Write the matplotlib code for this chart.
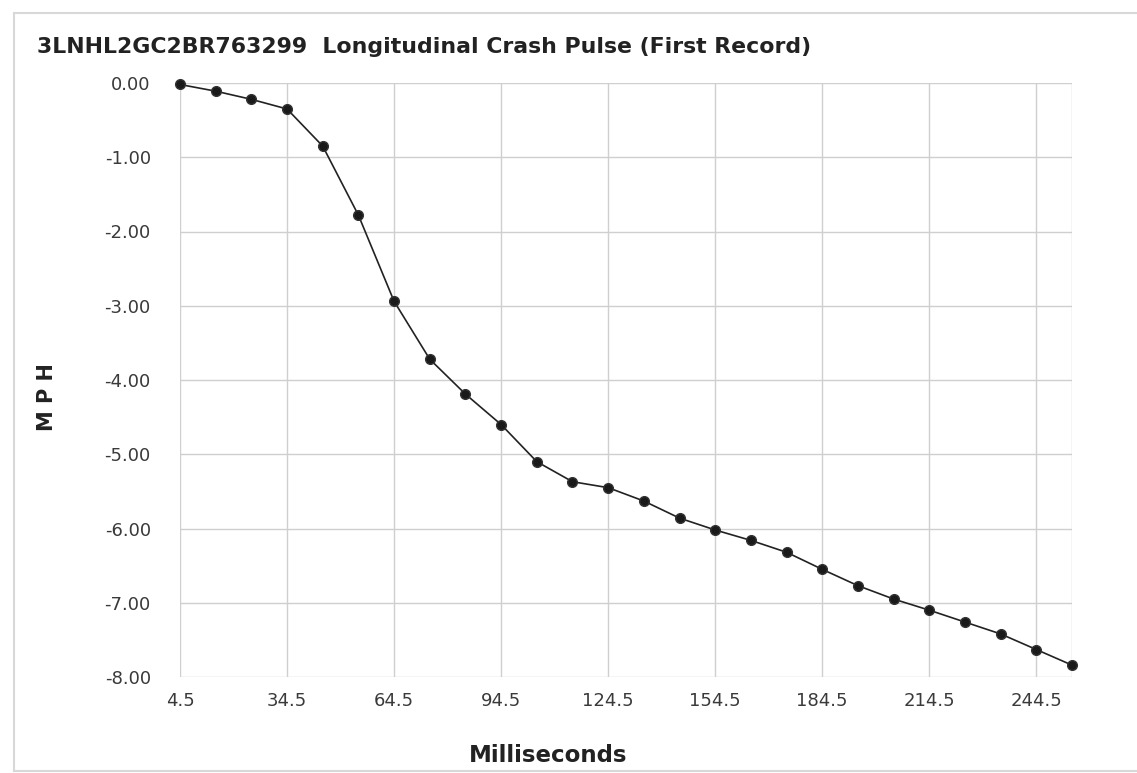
import matplotlib
matplotlib.use("Agg")
import matplotlib.pyplot as plt
from matplotlib.lines import Line2D

plt.rcParams['font.family'] = ['DejaVu Sans']

title = "3LNHL2GC2BR763299  Longitudinal Crash Pulse (First Record)"
x_label = "Milliseconds"
y_label = "M P H"

milliseconds = [4.5, 14.5, 24.5, 34.5, 44.5, 54.5, 64.5, 74.5, 84.5, 94.5,
                104.5, 114.5, 124.5, 134.5, 144.5, 154.5, 164.5, 174.5, 184.5,
                194.5, 204.5, 214.5, 224.5, 234.5, 244.5, 254.5]
mph = [-0.02, -0.11, -0.22, -0.35, -0.85, -1.78, -2.94, -3.72, -4.19, -4.60,
       -5.10, -5.37, -5.45, -5.63, -5.86, -6.02, -6.16, -6.32, -6.55,
       -6.77, -6.95, -7.10, -7.26, -7.42, -7.63, -7.84]
x_tick_values = [4.5, 34.5, 64.5, 94.5, 124.5, 154.5, 184.5, 214.5, 244.5]
y_tick_values = [0, -1, -2, -3, -4, -5, -6, -7, -8]

W, H = 1137, 773
fig = plt.figure(figsize=(W / 100, H / 100), dpi=100)
ax = fig.add_axes([180 / W, 1 - 677 / H, (1072 - 180) / W, (677 - 83) / H])

grid_c = '#cfcfcf'
ax.set_xlim(4.5, 254.5)
ax.set_ylim(-8, 0)
for v in x_tick_values + [milliseconds[-1]]:
    ax.axvline(v, color=grid_c, lw=1.0, zorder=1)
for v in y_tick_values:
    ax.axhline(v, color=grid_c, lw=1.0, zorder=1)

ax.plot(milliseconds, mph, color='#222222', lw=1.2, marker='o', ms=7,
        markerfacecolor='#1a1a1a', markeredgecolor='#333333', zorder=3,
        clip_on=False)

for s in ax.spines.values():
    s.set_visible(False)
ax.set_xticks(x_tick_values)
ax.set_xticklabels([f"{v:.1f}" for v in x_tick_values])
ax.set_yticks(y_tick_values)
ax.set_yticklabels([f"{v:.2f}" if v != 0 else "0.00" for v in y_tick_values])
ax.tick_params(length=0, labelsize=13, colors='#3a3a3a')
ax.tick_params(axis='y', pad=21)
ax.tick_params(axis='x', pad=11)

fig.text(37 / W, 1 - 47 / H, title, fontsize=15.8, fontweight='bold',
         color='#222222', ha='left', va='center')
fig.text(548 / W, 1 - 755 / H, x_label, fontsize=16.5, fontweight='bold',
         color='#222222', ha='center', va='center')
fig.text(47 / W, 1 - 397 / H, y_label, fontsize=15, fontweight='bold',
         color='#222222', ha='center', va='center', rotation=90)

border_c = '#d8d8d8'
fig.add_artist(Line2D([14 / W, 14 / W], [1 - 13 / H, 1 - 771 / H],
                      transform=fig.transFigure, color=border_c, lw=1.5))
fig.add_artist(Line2D([14 / W, 1137 / W], [1 - 13 / H, 1 - 13 / H],
                      transform=fig.transFigure, color=border_c, lw=1.5))
fig.add_artist(Line2D([14 / W, 1137 / W], [1 - 771 / H, 1 - 771 / H],
                      transform=fig.transFigure, color=border_c, lw=1.5))

fig.savefig("out.png", dpi=100)
